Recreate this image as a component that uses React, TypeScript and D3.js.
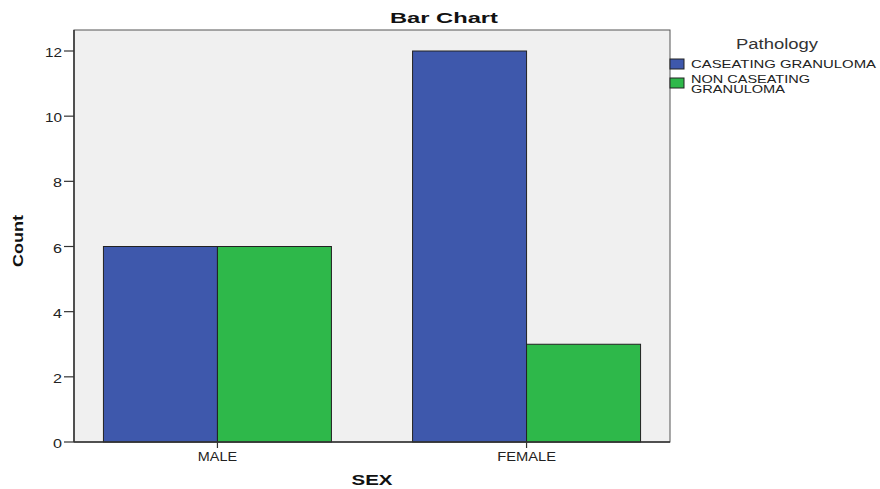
import React from "react";
import * as d3 from "d3";

const categories = ["MALE", "FEMALE"];
const seriesNames = ["CASEATING GRANULOMA", "NON CASEATING GRANULOMA"];
const caseating = [6, 12];
const nonCaseating = [6, 3];
const yTicks = [0, 2, 4, 6, 8, 10, 12];
const colors = ["#3e58ac", "#2eb84a"];

export default function App() {
  const W = 880, H = 489;
  const L = 74, R = 670, T = 30, B = 442;
  const y = d3.scaleLinear().domain([0, 12]).range([B, 51]);
  const x = d3.scalePoint<string>().domain(categories).range([L, R]).padding(0.464);
  const bw = 114;
  const series = [caseating, nonCaseating];
  const font = "'Liberation Sans', Arial, sans-serif";
  const st = { lengthAdjust: "spacingAndGlyphs" as const };
  return (
    <svg width={W} height={H} style={{ position: "absolute", left: 0, top: 0, fontFamily: font }}>
      <rect x={0} y={0} width={W} height={H} fill="#fff" />
      <text x={444} y={23} textAnchor="middle" fontWeight="bold" fontSize={15} fill="#111" textLength={108} {...st}>Bar Chart</text>
      <rect x={L} y={T} width={R - L} height={B - T} fill="#f0f0f0" stroke="#555" strokeWidth={1} />
      {categories.map((c, i) =>
        series.map((s, j) => {
          const cx = x(c)!;
          const x0 = cx - bw + j * bw;
          return (
            <rect key={c + j} x={x0} y={y(s[i])} width={bw} height={B - y(s[i])}
              fill={colors[j]} stroke="#222" strokeWidth={1} />
          );
        })
      )}
      <line x1={L} y1={T} x2={L} y2={B} stroke="#333" strokeWidth={1.5} />
      <line x1={L} y1={B} x2={R} y2={B} stroke="#333" strokeWidth={1.5} />
      {yTicks.map((t) => (
        <g key={t}>
          <line x1={L - 10} x2={L} y1={y(t)} y2={y(t)} stroke="#333" strokeWidth={1.2} />
          <text x={62} y={y(t) + 6} textAnchor="end" fontSize={12} fill="#222"
            textLength={String(t).length > 1 ? 17 : 9} {...st}>{t}</text>
        </g>
      ))}
      {categories.map((c) => (
        <g key={c}>
          <line x1={x(c)} x2={x(c)} y1={B} y2={B + 6} stroke="#333" strokeWidth={1.2} />
          <text x={x(c)} y={461} textAnchor="middle" fontSize={12} fill="#222"
            textLength={c.length * 9.8} {...st}>{c}</text>
        </g>
      ))}
      <text x={372} y={485} textAnchor="middle" fontWeight="bold" fontSize={15} fill="#111" textLength={41} {...st}>SEX</text>
      <text transform={`translate(23,241) rotate(-90)`} textAnchor="middle" fontWeight="bold" fontSize={14} fill="#111" textLength={52} {...st}>Count</text>
      <text x={777} y={49} textAnchor="middle" fontSize={14} fill="#333" textLength={82} {...st}>Pathology</text>
      <rect x={670} y={59} width={14} height={10} fill={colors[0]} stroke="#222" />
      <text x={691} y={68} fontSize={11} fill="#222" textLength={185} {...st}>{seriesNames[0]}</text>
      <rect x={670} y={78} width={14} height={10} fill={colors[1]} stroke="#222" />
      <text x={691} y={83} fontSize={11} fill="#222" textLength={119} {...st}>NON CASEATING</text>
      <text x={691} y={93} fontSize={11} fill="#222" textLength={94} {...st}>GRANULOMA</text>
    </svg>
  );
}
